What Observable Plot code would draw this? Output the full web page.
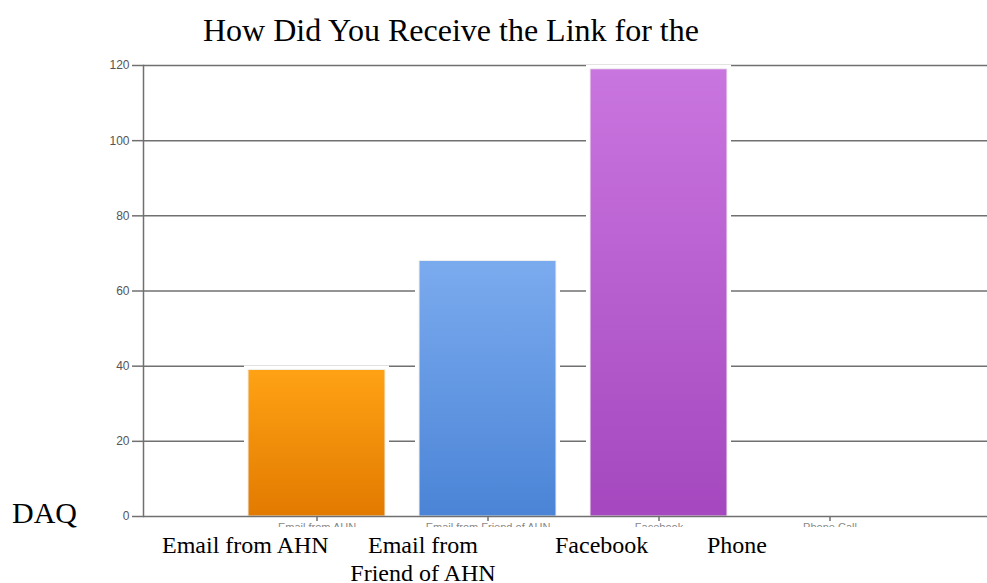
<!DOCTYPE html>
<html>
<head>
<meta charset="utf-8">
<script src="https://cdn.jsdelivr.net/npm/d3@7"></script>
<script src="https://cdn.jsdelivr.net/npm/@observablehq/plot@0.6"></script>
<style>
  html, body { margin: 0; padding: 0; background: #fff; }
  #wrap { position: relative; width: 987px; height: 583px; overflow: hidden; }
  #chart { position: absolute; left: 0; top: 0; }
  .t { position: absolute; font-family: "Liberation Serif", "Times New Roman", serif; color: #000; white-space: nowrap; }
  #title { left: 203px; top: 14px; font-size: 32px; line-height: 1; }
  #daq { left: 12px; top: 498px; font-size: 30px; line-height: 1; }
  .lab { font-size: 24px; line-height: 28px; top: 531px; }
</style>
</head>
<body>
<div id="wrap">
  <div id="chart"></div>
  <div class="t" id="title">How Did You Receive the Link for the</div>
  <div class="t" id="daq">DAQ</div>
  <div class="t lab" style="left:162px">Email from AHN</div>
  <div class="t lab" style="left:323px;width:200px;text-align:center">Email from<br>Friend of AHN</div>
  <div class="t lab" style="left:555px">Facebook</div>
  <div class="t lab" style="left:707px">Phone</div>
</div>
<script>
// ---- data ----
const categories = ["Email from AHN", "Email from Friend of AHN", "Facebook", "Phone"];
const counts = [39, 68, 119, 0];
const tickLabels = ["Email from AHN", "Email from Friend of AHN", "Facebook", "Phone Call"];
const yTicks = [0, 20, 40, 60, 80, 100, 120];
// ---- styles ----
const gradTop = ["#FFA214", "#7BABEF", "#C975DF", "#c8c8c8"];
const gradBottom = ["#E27A00", "#4B84D6", "#A548BF", "#c8c8c8"];

const data = categories.map((c, i) => ({
  category: c, count: counts[i], fill: `url(#barGrad${i})`
}));

const grid = "#707070";

const chart = Plot.plot({
  width: 987,
  height: 527,
  marginLeft: 143,
  marginRight: 0,
  marginTop: 65,
  marginBottom: 11,
  style: { fontFamily: "Liberation Sans, Arial, sans-serif", fontSize: "12px", background: "transparent" },
  x: { domain: categories, range: [213, 932], padding: 0.2, label: null },
  y: { domain: [0, 120], label: null },
  color: { type: "identity" },
  marks: [
    Plot.ruleY(yTicks.filter(d => d > 0), { stroke: grid, strokeWidth: 1.5 }),
    Plot.barY(data.filter(d => d.count > 0), { x: "category", y: "count", fill: "white", stroke: "white", strokeWidth: 8 }),
    Plot.barY(data.filter(d => d.count > 0), { x: "category", y: "count", fill: "fill", stroke: "#f0f0f0", strokeWidth: 1 }),
    Plot.ruleY([0], { stroke: grid, strokeWidth: 1.5 }),
    Plot.barY(data.filter(d => d.count === 0), { x: "category", y: "count", fill: "none", stroke: "#b9b9b9", strokeWidth: 3, insetBottom: 1 }),
    Plot.frame({ anchor: "left", stroke: grid, strokeWidth: 1.5 }),
    Plot.axisY({ ticks: yTicks, tickSize: 11, tickPadding: 3, fontSize: 12, color: "#555", stroke: grid, strokeWidth: 1.5, label: null }),
    Plot.axisX({ tickSize: 5, tickPadding: 2, fontSize: 11, color: "#888", stroke: grid, strokeWidth: 1.5,
      tickFormat: d => tickLabels[categories.indexOf(d)], label: null })
  ]
});

const defs = gradTop.map((t, i) =>
  `<linearGradient id="barGrad${i}" x1="0" y1="0" x2="0" y2="1">
     <stop offset="0" stop-color="${t}"/><stop offset="1" stop-color="${gradBottom[i]}"/>
   </linearGradient>`).join("");
chart.insertAdjacentHTML("afterbegin", `<defs>${defs}</defs>`);
document.getElementById("chart").appendChild(chart);
</script>
</body>
</html>
